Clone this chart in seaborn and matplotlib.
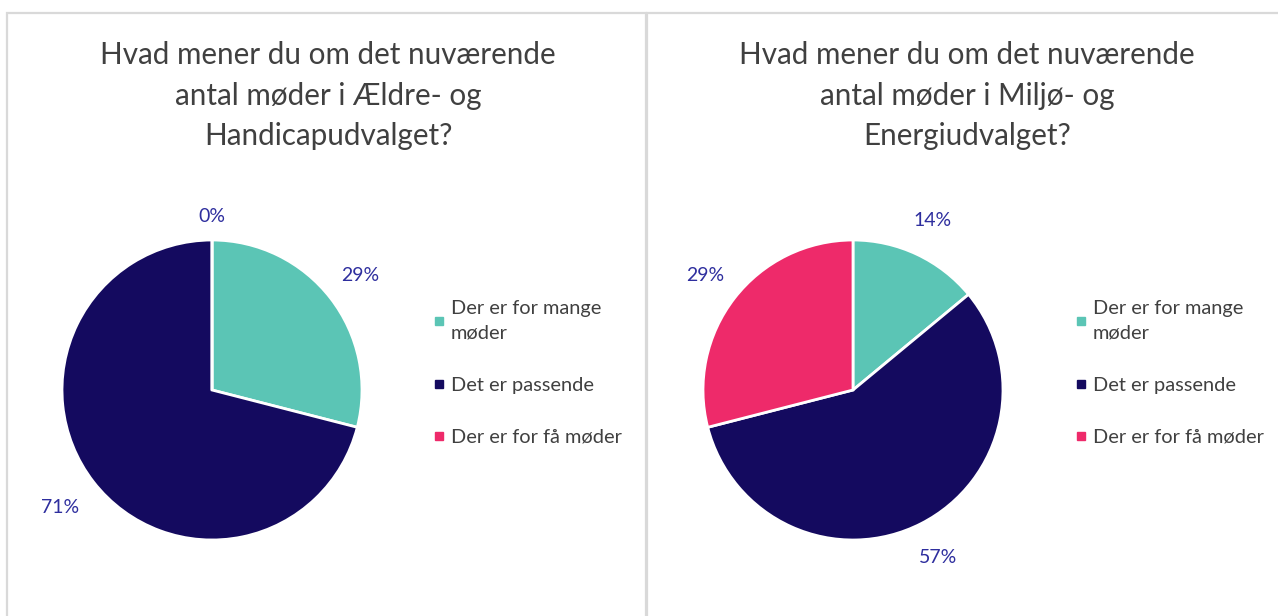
import matplotlib
matplotlib.use("Agg")
import matplotlib.pyplot as plt
import seaborn as sns
from matplotlib.patches import Rectangle
from matplotlib.lines import Line2D

sns.set_theme(style="white")
plt.rcParams['font.family'] = ['Lato', 'DejaVu Sans']

categories = ["Der er for mange\nmøder", "Det er passende", "Der er for få møder"]
titles = ["Hvad mener du om det nuværende\nantal møder i Ældre- og\nHandicapudvalget?",
          "Hvad mener du om det nuværende\nantal møder i Miljø- og\nEnergiudvalget?"]
values_aeldre = [29, 71, 0]
values_miljo = [14, 57, 29]
colors = ["#5BC5B5", "#140A5F", "#EE2A6A"]
label_color = "#2E2E9E"
text_color = "#404040"

W, H = 1278, 616
fig = plt.figure(figsize=(W / 100, H / 100), dpi=100)

# panel borders
for x0, x1 in [(7, 646), (647, 1300)]:
    fig.patches.append(Rectangle((x0 / W, -0.1), (x1 - x0) / W, (H - 13) / H + 0.1,
                                 transform=fig.transFigure, fill=False,
                                 edgecolor="#D9D9D9", lw=1.6))

panels = [
    (values_aeldre, titles[0], 212, 328, 435, [1.25, 1.28, 1.16]),
    (values_miljo, titles[1], 853, 967, 1077, [1.25, 1.25, 1.25]),
]
for vals, title, cx, tx, lx, dists in panels:
    r = 150
    ax = fig.add_axes([(cx - r) / W, (H - 390 - r) / H, 2 * r / W, 2 * r / H])
    wedges, texts, autotexts = ax.pie(
        vals, colors=colors, startangle=90, counterclock=False,
        autopct=lambda p: f"{p:.0f}%", pctdistance=1.0,
        wedgeprops=dict(edgecolor="white", linewidth=2),
        textprops=dict(color=label_color, fontsize=14))
    for t, d in zip(autotexts, dists):
        x, y = t.get_position()
        t.set_position((x * d, y * d))
    ax.set_xlim(-1, 1)
    ax.set_ylim(-1, 1)
    ax.set_aspect("auto")
    fig.text(tx / W, 1 - 41 / H, title, ha="center", va="top",
             fontsize=21.3, color=text_color, linespacing=1.55)
    handles = [Line2D([], [], marker="s", linestyle="", markersize=6,
                      markerfacecolor=c, markeredgecolor=c) for c in colors]
    leg = fig.legend(handles, categories, loc="upper left",
                     bbox_to_anchor=((lx - 14) / W, 1 - 292 / H), frameon=False,
                     fontsize=14.4, labelcolor=text_color, handletextpad=0.1,
                     handlelength=1.0, labelspacing=1.75, borderaxespad=0)
    for t in leg.get_texts():
        t.set_linespacing(1.55)

fig.savefig("out.png", dpi=100, facecolor="white")
